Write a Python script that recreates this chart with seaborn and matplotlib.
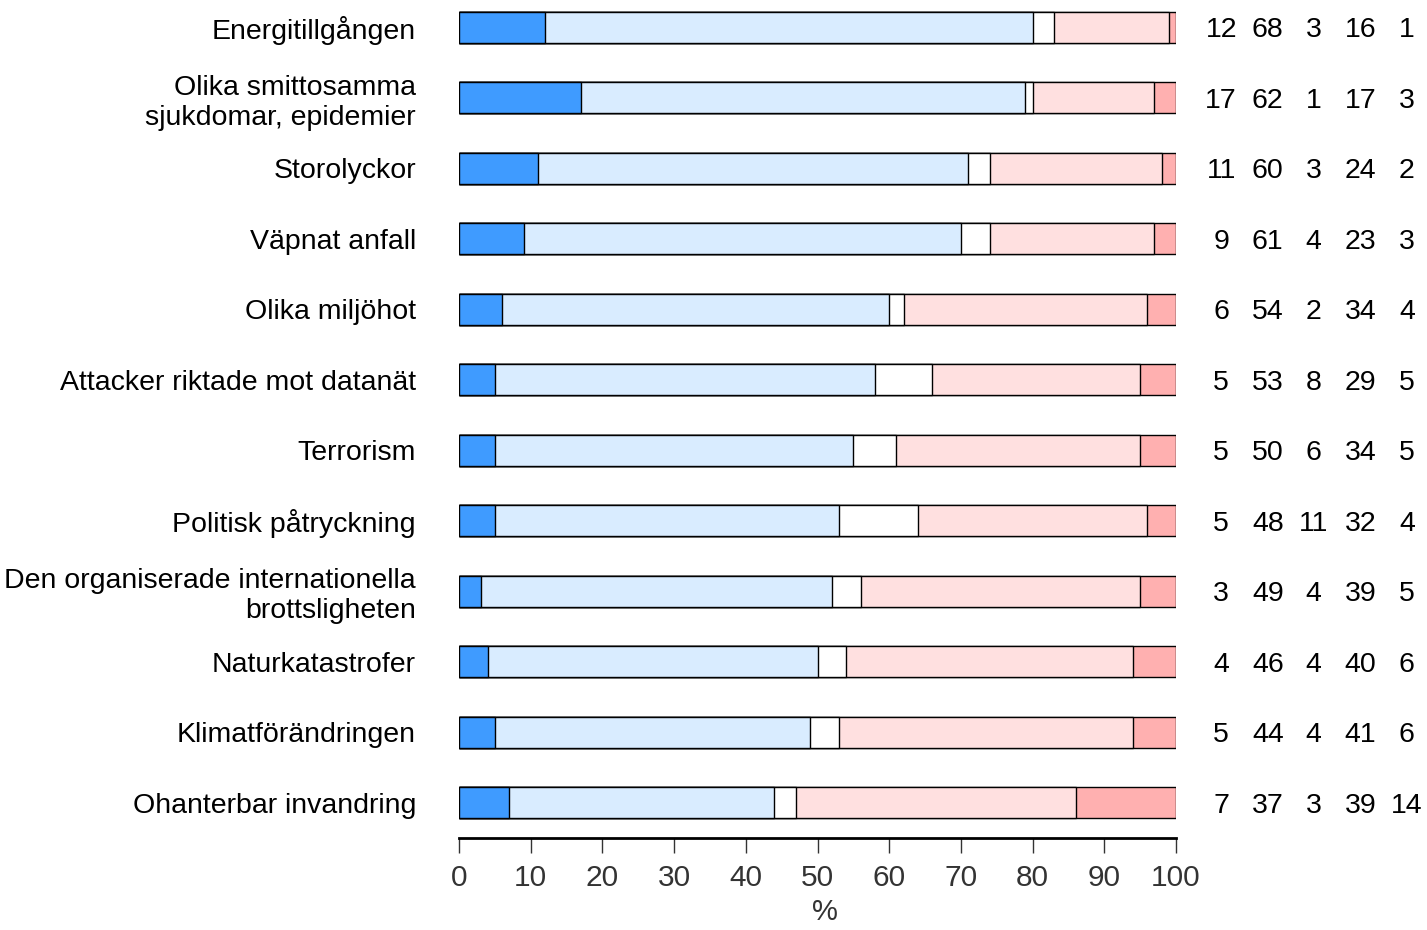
import numpy as np
import pandas as pd
import matplotlib
matplotlib.use('Agg')
import matplotlib.pyplot as plt
import seaborn as sns

# categories (top to bottom)
labels = ['Energitillgången', 'Olika smittosamma\nsjukdomar, epidemier', 'Storolyckor',
          'Väpnat anfall', 'Olika miljöhot', 'Attacker riktade mot datanät', 'Terrorism',
          'Politisk påtryckning', 'Den organiserade internationella\nbrottsligheten',
          'Naturkatastrofer', 'Klimatförändringen', 'Ohanterbar invandring']

# answer shares in %
very_much = [12, 17, 11, 9, 6, 5, 5, 5, 3, 4, 5, 7]
rather = [68, 62, 60, 61, 54, 53, 50, 48, 49, 46, 44, 37]
no_opinion = [3, 1, 3, 4, 2, 8, 6, 11, 4, 4, 4, 3]
rather_not = [16, 17, 24, 23, 34, 29, 34, 32, 39, 40, 41, 39]
not_at_all = [1, 3, 2, 3, 4, 5, 5, 4, 5, 6, 6, 14]

series = [very_much, rather, no_opinion, rather_not, not_at_all]
colors = ['#3f9bff', '#d9ecff', '#ffffff', '#ffe0e0', '#ffb0b0']
xticks = list(range(0, 101, 10))

sns.set_theme(style='white')
plt.rcParams['font.family'] = ['Liberation Sans', 'DejaVu Sans']

df = pd.DataFrame({'label': labels})
cum = np.cumsum(np.array(series), axis=0)

fig = plt.figure(figsize=(14.27, 9.30), dpi=100)
ax = fig.add_axes([459 / 1427, 92 / 930, (1176 - 459) / 1427, 838 / 930])

# draw cumulative totals from the back so each segment shows
for k in range(len(series) - 1, -1, -1):
    df['val'] = cum[k]
    sns.barplot(data=df, x='val', y='label', orient='h', color=colors[k],
                saturation=1, width=0.44, edgecolor='black', linewidth=1, ax=ax)

# value columns to the right
col_x = [106.3, 112.8, 119.2, 125.7, 132.2]
for i in range(len(labels)):
    for j, s in enumerate(series):
        ax.text(col_x[j], i, str(s[i]), ha='center', va='center_baseline', fontsize=20.5,
                color='black', clip_on=False)

ax.set_xlim(0, 100)
ax.set_ylim(11.5, -0.39)
ax.set_xticks(xticks)
ax.set_xticklabels([str(t) for t in xticks])
ax.set_xlabel('%', fontsize=21, color='#333333', labelpad=5)
ax.xaxis.set_label_coords(0.51, -0.072)
ax.set_ylabel('')
for sp in ['top', 'right', 'left']:
    ax.spines[sp].set_visible(False)
ax.spines['bottom'].set_color('black')
ax.spines['bottom'].set_linewidth(2)
ax.tick_params(axis='x', bottom=True, direction='out', length=11, width=1,
               color='#333333', labelsize=21.5, labelcolor='#333333', pad=8)
ax.tick_params(axis='y', left=False, labelsize=20.5, labelcolor='black', pad=25)

fig.savefig('out.png', dpi=100)
